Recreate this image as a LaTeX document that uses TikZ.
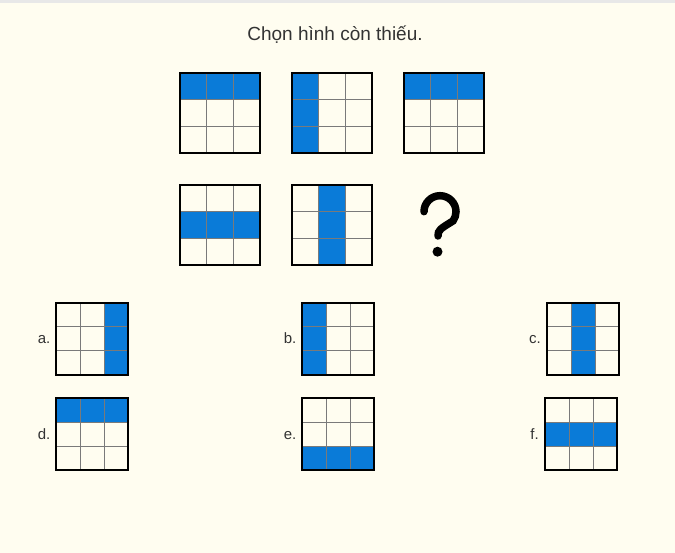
\documentclass[tikz,border=0pt]{standalone}
\usepackage{fontspec}
\setmainfont{Liberation Sans}
\definecolor{qbg}{HTML}{FFFDF0}
\definecolor{qstrip}{HTML}{E8E8E8}
\definecolor{qblue}{HTML}{0A7BD8}
\definecolor{qline}{HTML}{7A7A7A}
\definecolor{qtext}{HTML}{333333}
\tikzset{
  cellfill/.style={fill=qblue},
  innerline/.style={draw=qline, line width=1pt},
  outerline/.style={draw=black, line width=2pt},
  titletext/.style={text=qtext, font=\fontsize{19}{23}\selectfont, inner sep=0pt},
  optlabel/.style={text=qtext, font=\fontsize{15}{18}\selectfont, inner sep=0pt, anchor=base east},
  qmarkline/.style={draw=black, line width=7.5pt, line cap=round},
}
\newcommand{\qgrid}[4]{%
  \begin{scope}[shift={(#1,#2)}]
    \foreach \cc/\rr in {#4} {\fill[cellfill] (\cc*#3/3,\rr*#3/3) rectangle ++(#3/3,#3/3);}
    \foreach \k in {1,2} {
      \draw[innerline] (\k*#3/3,0) -- (\k*#3/3,#3);
      \draw[innerline] (0,\k*#3/3) -- (#3,\k*#3/3);
    }
    \draw[outerline] (0,0) rectangle (#3,#3);
  \end{scope}}
\begin{document}
\begin{tikzpicture}[x=1pt,y=-1pt]
  \fill[qbg] (0,0) rectangle (675,553);
  \fill[qstrip] (0,0) rectangle (675,3);
  \useasboundingbox (0,0) rectangle (675,553);
  \node[titletext, anchor=base] (title) at (335,41) {Chọn hình còn thiếu.};
  % puzzle
  \qgrid{180}{73}{80}{0/0,1/0,2/0}
  \qgrid{292}{73}{80}{0/0,0/1,0/2}
  \qgrid{404}{73}{80}{0/0,1/0,2/0}
  \qgrid{180}{185}{80}{0/1,1/1,2/1}
  \qgrid{292}{185}{80}{1/0,1/1,1/2}
  % question mark
  \draw[qmarkline] (424,211.7) arc[start angle=180, end angle=395, radius=16]
     .. controls (440,229) and (438,230) .. (438,236);
  \fill (437.5,251.7) circle[radius=5];
  % options
  \qgrid{56}{303}{72}{2/0,2/1,2/2}
  \qgrid{302}{303}{72}{0/0,0/1,0/2}
  \qgrid{547}{303}{72}{1/0,1/1,1/2}
  \qgrid{56}{398}{72}{0/0,1/0,2/0}
  \qgrid{302}{398}{72}{0/2,1/2,2/2}
  \qgrid{545}{398}{72}{0/1,1/1,2/1}
  \node[optlabel] (la) at (50.5,344) {a.};
  \node[optlabel] (lb) at (296.5,344) {b.};
  \node[optlabel] (lc) at (541,344) {c.};
  \node[optlabel] (ld) at (50.5,439) {d.};
  \node[optlabel] (le) at (296.5,439) {e.};
  \node[optlabel] (lf) at (539,439) {f.};
\end{tikzpicture}
\end{document}
